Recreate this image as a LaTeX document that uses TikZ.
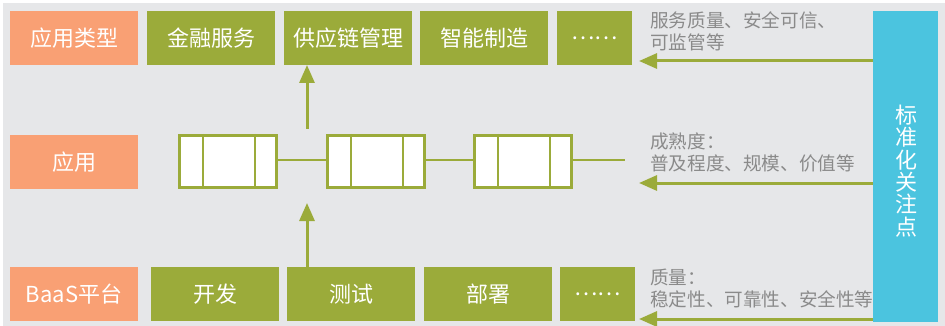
\documentclass[tikz,border=0pt]{standalone}
\usepackage{fontspec}
\newfontfamily\cjk{Noto Sans CJK SC}
\usetikzlibrary{arrows.meta,calc}
\definecolor{bggray}{HTML}{E6E7E9}
\definecolor{orng}{HTML}{F9A074}
\definecolor{grn}{HTML}{9BAB3A}
\definecolor{blu}{HTML}{4BC4DF}
\definecolor{txtgray}{HTML}{8A8A8A}
\tikzset{
  base/.style={inner sep=0pt, outer sep=0pt, minimum height=54pt, text=white, font=\cjk\fontsize{22}{24}\selectfont},
  obox/.style={base, fill=orng, minimum width=128pt},
  gbox/.style={base, fill=grn, minimum width=128pt},
  dbox/.style={base, fill=grn, minimum width=75pt},
  chain/.style={draw=grn, line width=2.6pt, fill=white, inner sep=0pt, minimum width=97.4pt, minimum height=52.4pt},
  link/.style={draw=grn, line width=2.8pt},
  arr/.style={draw=grn, line width=3pt, -{Triangle[length=18pt,width=15pt]}},
  note/.style={anchor=west, inner sep=0pt, align=left, text=txtgray, font=\cjk\fontsize{18.6}{22}\selectfont},
}
\begin{document}
\begin{tikzpicture}[x=1pt,y=-1pt]
\useasboundingbox (0,0) rectangle (945,326);
\fill[bggray] (3,3) rectangle (945,326);
% top row
\node[obox] (t0) at (74,38) {应用类型};
\node[gbox] (t1) at (211,38) {金融服务};
\node[gbox] (t2) at (348,38) {供应链管理};
\node[gbox] (t3) at (484,38) {智能制造};
\node[dbox] (t4) at (594.5,38) {……};
% middle row
\node[obox] (m0) at (74,162) {应用};
\node[chain] (c1) at (228,161.5) {};
\node[chain] (c2) at (376,161.5) {};
\node[chain] (c3) at (523,161.5) {};
\foreach \c in {c1,c2,c3}{
  \draw[link, line width=2.6pt] ($(\c.north west)+(25,0)$) -- ($(\c.south west)+(25,0)$);
  \draw[link, line width=2.6pt] ($(\c.north east)+(-23,0)$) -- ($(\c.south east)+(-23,0)$);
}
\coordinate (cend) at (625,160);
\draw[link] (c1.east |- 0,160) -- (c2.west |- 0,160);
\draw[link] (c2.east |- 0,160) -- (c3.west |- 0,160);
\draw[link] (c3.east |- 0,160) -- (cend);
% bottom row
\node[obox] (b0) at (74,294) {BaaS平台};
\node[gbox] (b1) at (215,294) {开发};
\node[gbox] (b2) at (351,294) {测试};
\node[gbox] (b3) at (488,294) {部署};
\node[dbox] (b4) at (597.5,294) {……};
% vertical arrows
\coordinate (ax) at (307,0);
\coordinate (upstart) at (307,129);
\coordinate (lowtip) at (307,203);
\draw[arr] (upstart) -- (t2.south -| ax);
\draw[arr] (b2.north -| ax) -- (lowtip);
% blue box
\node[base, fill=blu, minimum width=65pt, minimum height=311pt] (std) at (905.5,166.5) {};
\node[inner sep=0pt, align=center, text=white, font=\cjk\fontsize{22}{22.4}\selectfont] (stdtxt) at (906,171) {标\\准\\化\\关\\注\\点};
% left arrows
\coordinate (tip1) at (639,61);
\coordinate (tip2) at (639,183);
\coordinate (tip3) at (639,319);
\draw[arr] (std.west |- tip1) -- (tip1);
\draw[arr] (std.west |- tip2) -- (tip2);
\draw[arr] (std.west |- tip3) -- (tip3);
% notes
\node[note] (n1) at (650,31) {服务质量、安全可信、\\可监管等};
\node[note] (n2) at (650,152.5) {成熟度：\\普及程度、规模、价值等};
\node[note] (n3) at (650,288.5) {质量：\\稳定性、可靠性、安全性等};
\end{tikzpicture}
\end{document}
